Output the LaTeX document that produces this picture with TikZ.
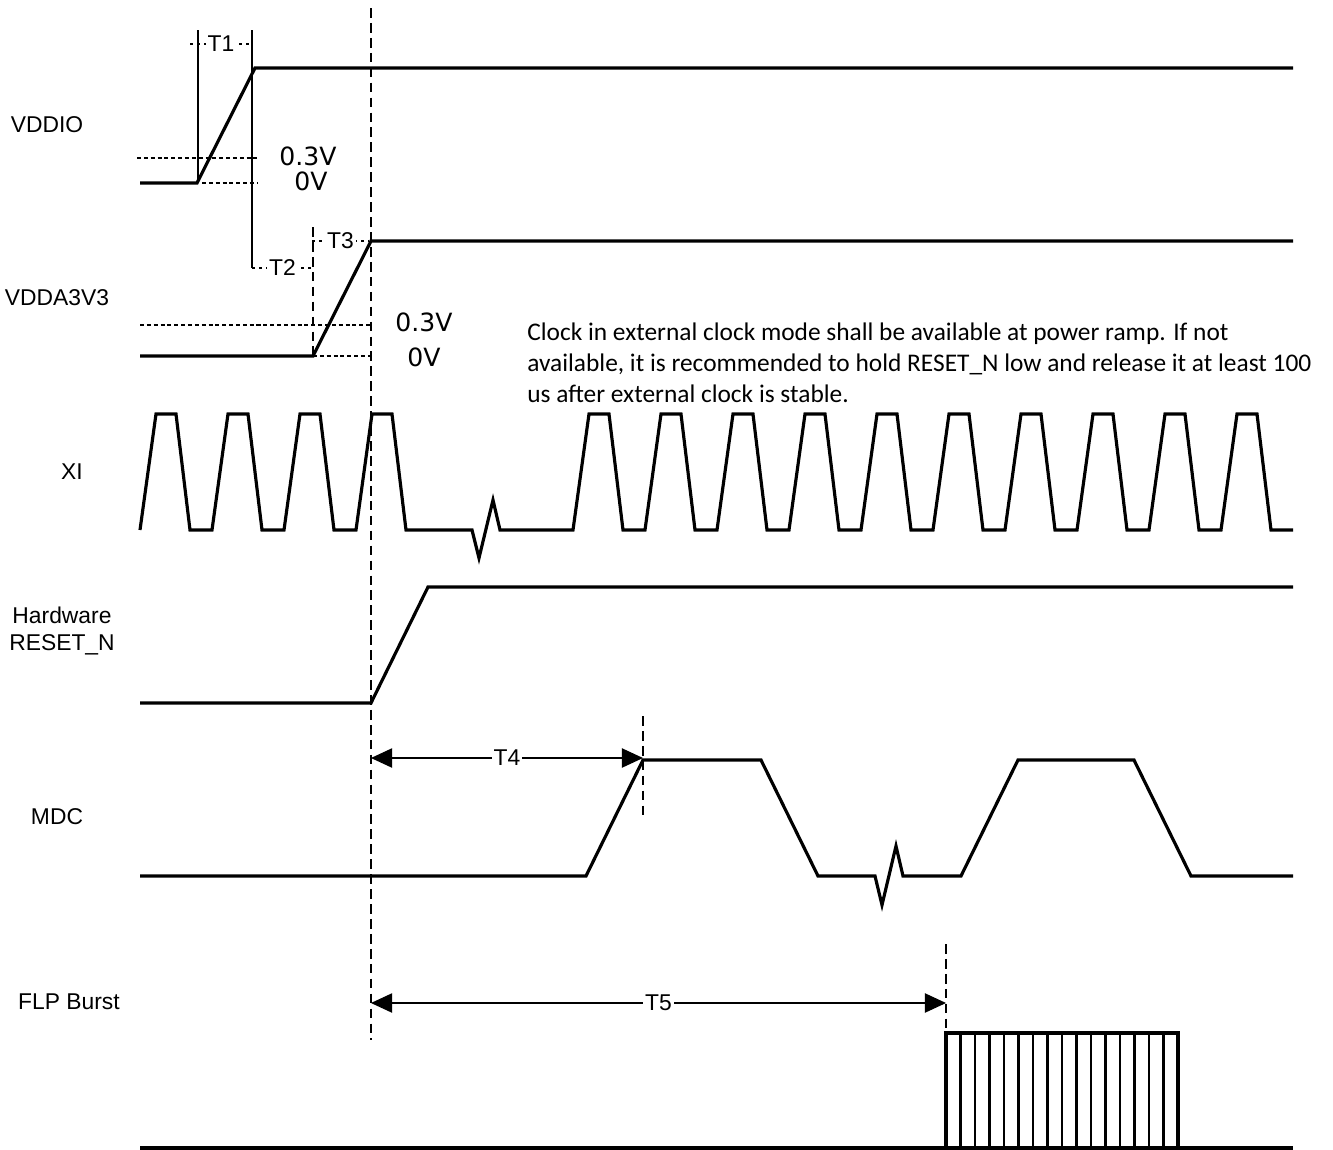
\documentclass[tikz,border=0pt]{standalone}
\usepackage{fontspec}
\setmainfont{Liberation Sans}
\newfontfamily\notefont{Carlito}
\newfontfamily\voltfont{DejaVu Sans}
\usetikzlibrary{arrows.meta}

\tikzset{
  signal/.style={line width=1.8pt, line join=miter},
  marker/.style={line width=0.9pt},
  guide/.style={line width=0.7pt, dash pattern=on 5.5pt off 3pt},
  level/.style={line width=1.1pt, dash pattern=on 2.3pt off 1.6pt},
  tick/.style={line width=0.8pt, dash pattern=on 1.8pt off 2.2pt},
  span/.style={line width=0.6pt, {Triangle[length=12pt,width=11pt]}-{Triangle[length=12pt,width=11pt]}},
  sig/.style={font=\fontsize{13}{15.6}\selectfont, align=center},
  volt/.style={font=\voltfont\fontsize{14.3}{16}\selectfont, inner sep=0pt},
  tlabel/.style={font=\fontsize{13}{15}\selectfont, fill=white, inner sep=1pt},
}

\begin{document}
\begin{tikzpicture}[x=0.02cm, y=-0.02cm]
        \useasboundingbox (0,0) rectangle (1333,1150);

        \node[sig] (vddio) at (47,125) {VDDIO};
        \node[sig] (vdda) at (57,298) {VDDA3V3};
        \node[sig] (xi) at (72,472) {XI};
        \node[sig] (reset) at (62,631) {Hardware\\RESET\_N};
        \node[sig] (mdc) at (57,817) {MDC};
        \node[sig] (flp) at (69,1002) {FLP Burst};

        % VDDIO
        \draw[signal] (140,183) -- (197,183) -- (255,68) -- (1293,68);
        \draw[marker] (198,30) -- (198,183);
        \draw[marker] (252,30) -- (252,268);
        \draw[tick] (190,44) -- node[tlabel] (t1) {T1} (252,44);
        \draw[level] (137,158) -- (257,158);
        \draw[level] (202,183) -- (257,183);
        \node[volt] (v1hi) at (308,156) {0.3V};
        \node[volt] (v1lo) at (311,181) {0V};

        % VDDA3V3
        \draw[signal] (140,356) -- (313,356) -- (371,241) -- (1293,241);
        \draw[guide] (313,227) -- (313,356);
        \draw[tick] (252,268) -- node[tlabel] (t2) {T2} (313,268);
        \draw[tick] (312,241) -- node[tlabel] (t3) {T3} (369,241);
        \draw[level] (140,325) -- (371,325);
        \draw[level] (313,356) -- (371,356);
        \node[volt] (v2hi) at (424,322) {0.3V};
        \node[volt] (v2lo) at (424,357) {0V};

        \node[font=\notefont\fontsize{14.45}{17.6}\selectfont, align=left, inner sep=0pt, anchor=west] (note) at (527,363)
            {Clock in external clock mode shall be available at power ramp. If not\\
             available, it is recommended to hold RESET\_N low and release it at least 100\\
             us after external clock is stable.};

        \draw[guide] (371,8) -- (371,1040);

        % XI
        \draw[signal] (140,530) \foreach \r in {140,212,284,356} {
            -- (\r+16,414) -- (\r+36,414) -- (\r+50,530) -- (\r+72,530)}
            -- (472,530) -- (479,558) -- (493,500) -- (500,530)
            \foreach \r in {573,645,...,1221} {
            -- (\r,530) -- (\r+16,414) -- (\r+36,414) -- (\r+50,530)}
            -- (1293,530);

        % RESET_N
        \draw[signal] (140,703) -- (371,703) -- (428,587) -- (1293,587);

        % MDC
        \draw[signal] (140,876) -- (586,876) -- (643,760) -- (761,760) -- (818,876) -- (875,876)
            -- (882,905) -- (896,846) -- (903,876) -- (961,876) -- (1018,760) -- (1134,760)
            -- (1191,876) -- (1293,876);
        \draw[guide] (643,716) -- (643,818);
        \coordinate (t4a) at (371,758);
        \coordinate (t4b) at (643,758);
        \draw[span] (t4a) -- node[tlabel] (t4) {T4} (t4b);

        % FLP burst
        \draw[guide] (946,944) -- (946,1033);
        \coordinate (t5a) at (371,1003);
        \coordinate (t5b) at (946,1003);
        \draw[span] (t5a) -- node[tlabel] (t5) {T5} (t5b);
        \draw[signal] (140,1148) -- (1293,1148);
        \draw[signal] (946,1148) -- (946,1033) -- (1178,1033) -- (1178,1148);
        \foreach \i in {1,...,15}
            \draw[marker, line width=1.2pt] (946+14.5*\i,1033) -- (946+14.5*\i,1148);
    \end{tikzpicture}
\end{document}
